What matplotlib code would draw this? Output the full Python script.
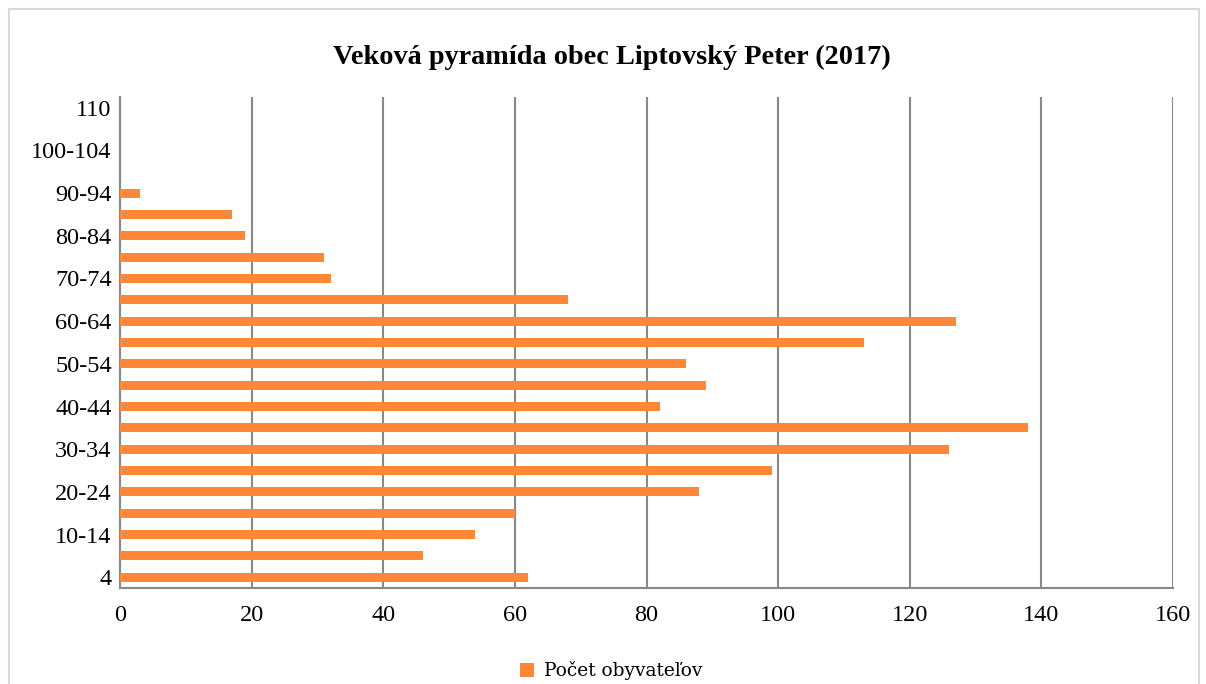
import matplotlib
matplotlib.use("Agg")
import matplotlib.pyplot as plt
from matplotlib.patches import Rectangle

categories = ["4", "5-9", "10-14", "15-19", "20-24", "25-29", "30-34", "35-39",
              "40-44", "45-49", "50-54", "55-59", "60-64", "65-69", "70-74",
              "75-79", "80-84", "85-89", "90-94", "95-99", "100-104", "105-109", "110"]
values = [62, 46, 54, 60, 88, 99, 126, 138, 82, 89, 86, 113, 127, 68, 32,
          31, 19, 17, 3, 0, 0, 0, 0]
x_ticks = [0, 20, 40, 60, 80, 100, 120, 140, 160]
title = "Veková pyramída obec Liptovský Peter (2017)"
series_name = "Počet obyvateľov"

W, H = 1206, 684
fig = plt.figure(figsize=(W / 100, H / 100), dpi=100)
fig.patch.set_facecolor("white")

# outer chart frame
fig.add_artist(Rectangle((9 / W, -0.05), (1199 - 9) / W, (H - 9) / H + 0.05,
                         transform=fig.transFigure, fill=False,
                         edgecolor="#d9d9d9", linewidth=1.5))

ax = fig.add_axes([120 / W, (H - 588) / H, (1173 - 120) / W, (588 - 97) / H])
y = list(range(len(categories)))
ax.barh(y, values, height=0.42, color="#FF8838", label=series_name, zorder=3)

ax.set_xlim(0, 160)
ax.set_ylim(-0.5, len(categories) - 0.5)
ax.set_xticks(x_ticks)
ax.set_xticklabels([str(t) for t in x_ticks], fontfamily="Liberation Serif", fontsize=17.5)
ax.set_yticks(y)
ax.set_yticklabels([c if i % 2 == 0 else "" for i, c in enumerate(categories)],
                   fontfamily="Liberation Serif", fontsize=17.5)
ax.tick_params(axis="y", length=0, pad=6, colors="black")
ax.tick_params(axis="x", length=0, pad=12, colors="black")
ax.grid(axis="x", color="#888888", linewidth=1.5, zorder=0)
ax.set_axisbelow(True)
ax.spines["top"].set_visible(False)
ax.spines["right"].set_visible(False)
for s in ["left", "bottom"]:
    ax.spines[s].set_color("#888888")
    ax.spines[s].set_linewidth(1.5)

fig.text(612 / W, 1 - 57 / H, title, ha="center", va="center",
         fontfamily="Liberation Serif", fontweight="bold", fontsize=20.3)

leg = fig.legend(loc="center", bbox_to_anchor=(611 / W, 1 - 671 / H), frameon=False,
                 prop={"family": "DejaVu Serif", "size": 13.4},
                 handlelength=0.75, handleheight=0.75, handletextpad=0.55)

fig.savefig("out.png", dpi=100)
